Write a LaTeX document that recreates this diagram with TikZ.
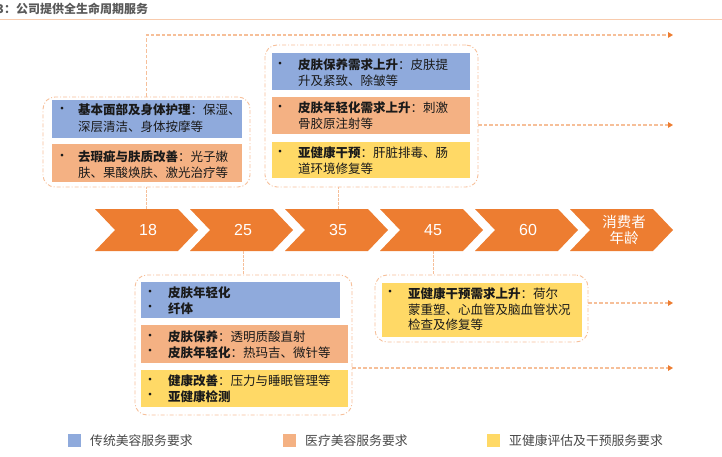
\documentclass[tikz,border=0pt]{standalone}
\usepackage{fontspec}
\setmainfont{Noto Sans CJK SC}
\newfontfamily\numfont{Liberation Sans}
\usetikzlibrary{arrows.meta}
\definecolor{cblue}{HTML}{8FAADC}
\definecolor{corange}{HTML}{F4B183}
\definecolor{cyellow}{HTML}{FFD966}
\definecolor{cchev}{HTML}{ED7D31}
\definecolor{cdash}{HTML}{F6BF99}
\definecolor{cline}{HTML}{F8CBAD}
\definecolor{cgrey}{HTML}{595959}
\definecolor{ctext}{HTML}{1A1A1A}
\tikzset{
  outerbox/.style={draw=cdash, line width=0.9pt, dash pattern=on 4pt off 2pt on 1pt off 2pt, rounded corners=12pt, inner sep=0pt},
  fillbox/.style={draw=none, inner sep=0pt},
  txt/.style={inner sep=0pt, align=left, text=ctext, font={\fontsize{12.5}{15.5}\selectfont}},
  bul/.style={inner sep=0pt, text=ctext, font={\fontsize{13}{14}\selectfont}},
  chevtxt/.style={inner sep=0pt, minimum width=60pt, minimum height=42pt, text=white, align=center},
  conn/.style={draw=cdash, line width=1.5pt, dash pattern=on 3.5pt off 2pt, -{Triangle[length=5pt,width=5.5pt,color=cchev]}},
  vconn/.style={draw=cdash, line width=0.8pt, dash pattern=on 2.5pt off 1.5pt},
  legsq/.style={inner sep=0pt, minimum width=13pt, minimum height=13pt, draw=none},
  legtxt/.style={inner sep=0pt, text=cgrey!80!black, font={\fontsize{12.8}{15}\selectfont}}
}
\begin{document}
\begin{tikzpicture}[x=1pt,y=-1pt]
\useasboundingbox (0,0) rectangle (722,457);
% title
\node[anchor=base west, inner sep=0pt, text=cgrey, font={\bfseries\fontsize{12}{14}\selectfont}] (title) at (-3.5,13.5) {3：公司提供全生命周期服务};
\draw[cline, line width=1.2pt] (0,19.5) -- (722,19.5);

% chevrons
\foreach \i in {0,...,5}{
  \fill[cchev] ({95+95*\i},209) -- ++(83,0) -- ++(20,21) -- ++(-20,21) -- ++(-83,0) -- ++(20,-21) -- cycle;
}
\node[chevtxt, font={\numfont\fontsize{16}{18}\selectfont}] (c1) at (148,230) {18};
\node[chevtxt, font={\numfont\fontsize{16}{18}\selectfont}] (c2) at (243,230) {25};
\node[chevtxt, font={\numfont\fontsize{16}{18}\selectfont}] (c3) at (338,230) {35};
\node[chevtxt, font={\numfont\fontsize{16}{18}\selectfont}] (c4) at (433,230) {45};
\node[chevtxt, font={\numfont\fontsize{16}{18}\selectfont}] (c5) at (528,230) {60};
\node[chevtxt, font={\fontsize{14.5}{16}\selectfont}] (c6) at (624,230) {消费者\\年龄};

% Box A (18)
\node[outerbox, minimum width=207pt, minimum height=90pt] (A) at (146.5,142) {};
\node[fillbox, fill=cblue, minimum width=190pt, minimum height=38pt] (A1) at (147,119) {};
\node[fillbox, fill=corange, minimum width=190pt, minimum height=38pt] (A2) at (147,163) {};
\node[bul] (A1b) at (62,110) {•};
\node[txt, anchor=west, font={\fontsize{12.5}{17}\selectfont}] (A1t) at (78,118.5) {\textbf{基本面部及身体护理}：保湿、\\深层清洁、身体按摩等};
\node[bul] (A2b) at (62,157) {•};
\node[txt, anchor=west] (A2t) at (78,164.5) {\textbf{去瑕疵与肤质改善}：光子嫩\\肤、果酸焕肤、激光治疗等};

% Box B (35)
\node[outerbox, minimum width=213pt, minimum height=142pt] (B) at (371.5,116) {};
\node[fillbox, fill=cblue, minimum width=198pt, minimum height=37pt] (B1) at (371,71.5) {};
\node[fillbox, fill=corange, minimum width=198pt, minimum height=37pt] (B2) at (371,115.5) {};
\node[fillbox, fill=cyellow, minimum width=198pt, minimum height=36pt] (B3) at (371,160) {};
\node[bul] (B1b) at (280,65) {•};
\node[txt, anchor=west] (B1t) at (298,72.5) {\textbf{皮肤保养需求上升}：皮肤提\\升及紧致、除皱等};
\node[bul] (B2b) at (280,108) {•};
\node[txt, anchor=west] (B2t) at (298,115.5) {\textbf{皮肤年轻化需求上升}：刺激\\骨胶原注射等};
\node[bul] (B3b) at (280,153) {•};
\node[txt, anchor=west] (B3t) at (298,160.5) {\textbf{亚健康干预}：肝脏排毒、肠\\道环境修复等};

% Box C (25)
\node[outerbox, minimum width=217pt, minimum height=140pt] (C) at (243.5,345) {};
\node[fillbox, fill=cblue, minimum width=199pt, minimum height=36pt] (C1) at (240.5,300) {};
\node[fillbox, fill=corange, minimum width=207pt, minimum height=38pt] (C2) at (244.5,344) {};
\node[fillbox, fill=cyellow, minimum width=207pt, minimum height=37pt] (C3) at (244.5,388.5) {};
\node[bul] (C1b) at (150,293) {•};
\node[bul] (C1c) at (150,308) {•};
\node[txt, anchor=west] (C1t) at (168,300.5) {\textbf{皮肤年轻化}\\\textbf{纤体}};
\node[bul] (C2b) at (150,337) {•};
\node[bul] (C2c) at (150,352) {•};
\node[txt, anchor=west] (C2t) at (168,344.5) {\textbf{皮肤保养}：透明质酸直射\\\textbf{皮肤年轻化}：热玛吉、微针等};
\node[bul] (C3b) at (150,381) {•};
\node[bul] (C3c) at (150,396) {•};
\node[txt, anchor=west] (C3t) at (168,388.5) {\textbf{健康改善}：压力与睡眠管理等\\\textbf{亚健康检测}};

% Box D (45)
\node[outerbox, minimum width=213pt, minimum height=67pt] (D) at (481.5,308.5) {};
\node[fillbox, fill=cyellow, minimum width=200pt, minimum height=54pt] (D1) at (482,310) {};
\node[bul] (D1b) at (390,293) {•};
\node[txt, anchor=west] (D1t) at (408,309.5) {\textbf{亚健康干预需求上升}：荷尔\\蒙重塑、心血管及脑血管状况\\检查及修复等};

% connectors
\coordinate (e1) at (673,35);
\coordinate (e2) at (673,125);
\coordinate (e3) at (673,368);
\coordinate (e4) at (673,303);
\draw[conn] (A.north) |- (e1);
\draw[conn] (e2 -| B.east) -- (e2);
\draw[conn] (e3 -| C.east) -- (e3);
\draw[conn] (e4 -| D.east) -- (e4);
\draw[vconn] (c1.north -| A.south) -- (A.south);
\draw[vconn] (c3.north) -- (c3.north |- B.south);
\draw[vconn] (c2.south) -- (c2.south |- C.north);
\draw[vconn] (c4.south) -- (c4.south |- D.north);

% legend
\node[legsq, fill=cblue] (L1) at (74.5,440.5) {};
\node[legtxt, anchor=west] (L1t) at (90,441) {传统美容服务要求};
\node[legsq, fill=corange] (L2) at (289.5,440.5) {};
\node[legtxt, anchor=west] (L2t) at (305,441) {医疗美容服务要求};
\node[legsq, fill=cyellow] (L3) at (493.5,440.5) {};
\node[legtxt, anchor=west] (L3t) at (509,441) {亚健康评估及干预服务要求};
\end{tikzpicture}
\end{document}
